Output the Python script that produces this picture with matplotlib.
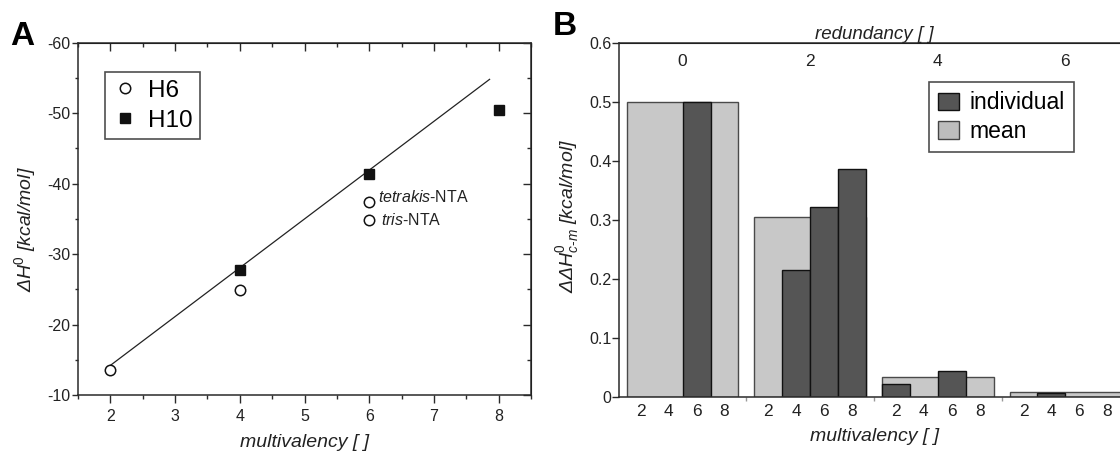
import numpy as np
import matplotlib
matplotlib.use('Agg')
import matplotlib.pyplot as plt
from matplotlib.patches import Patch
from matplotlib.ticker import MultipleLocator, NullFormatter

plt.rcParams['font.family'] = ['Liberation Sans', 'DejaVu Sans']
plt.rcParams['mathtext.fontset'] = 'custom'
plt.rcParams['mathtext.rm'] = 'Liberation Sans'
plt.rcParams['mathtext.it'] = 'Liberation Sans:italic'
plt.rcParams['mathtext.bf'] = 'Liberation Sans:bold'
plt.rcParams['axes.unicode_minus'] = False

# ---------------- Panel A data ----------------
h6_x = [2, 4, 6, 6]
h6_y = [-13.5, -24.9, -37.4, -34.8]
h10_x = [4, 6, 8]
h10_y = [-27.8, -41.4, -50.5]
fit_x = [2.0, 7.86]
fit_y = [-14.2, -54.8]
a_xticks = [2, 3, 4, 5, 6, 7, 8]
a_yticks = [-60, -50, -40, -30, -20, -10]
a_ylabels = ['-60', '-50', '-40', '-30', '-20', '-10']

# ---------------- Panel B data ----------------
redundancy = ['0', '2', '4', '6']
multivalency = ['2', '4', '6', '8']
mean_vals = [0.500, 0.305, 0.033, 0.008]
individual_vals = [
    [np.nan, np.nan, 0.500, np.nan],
    [np.nan, 0.215, 0.321, 0.386],
    [0.021, np.nan, 0.043, np.nan],
    [np.nan, 0.006, np.nan, np.nan],
]
b_yticks = [0, 0.1, 0.2, 0.3, 0.4, 0.5, 0.6]
b_ylabels = ['0', '0.1', '0.2', '0.3', '0.4', '0.5', '0.6']

W, H = 1120, 451
fig = plt.figure(figsize=(W / 100, H / 100), dpi=100)
spine_c = '#2a2a2a'
txt_c = '#222222'

# ================= Panel A =================
axA = fig.add_axes([78 / W, 1 - 395 / H, 453 / W, 352.3 / H])
axA.plot(fit_x, fit_y, color='#222222', lw=0.9, zorder=2)
axA.plot(h6_x, h6_y, 'o', mfc='white', mec='#111111', ms=7.5, mew=1.1,
         label='H6', zorder=3)
axA.plot(h10_x, h10_y, 's', color='#111111', ms=7.5, label='H10', zorder=3)
axA.set_xlim(1.5, 8.5)
axA.set_ylim(-10, -60)
axA.set_xticks(a_xticks)
axA.set_yticks(a_yticks)
axA.set_yticklabels(a_ylabels)
axA.xaxis.set_minor_locator(MultipleLocator(0.5))
axA.yaxis.set_minor_locator(MultipleLocator(5))
axA.tick_params(axis='x', which='major', direction='out', length=6, width=1,
                labelsize=11.5, pad=4, color=spine_c, labelcolor=txt_c)
axA.tick_params(axis='x', which='minor', direction='out', length=3, width=1,
                color=spine_c)
axA.tick_params(axis='y', which='major', direction='out', length=4.5, width=1,
                labelsize=11.5, pad=1, color=spine_c, labelcolor=txt_c)
axA.tick_params(axis='y', which='minor', direction='out', length=2.5, width=1,
                color=spine_c)
for s in axA.spines.values():
    s.set_color(spine_c)
    s.set_linewidth(1.1)

secx = axA.secondary_xaxis('top')
secx.set_xticks(a_xticks)
secx.xaxis.set_minor_locator(MultipleLocator(0.5))
secx.xaxis.set_major_formatter(NullFormatter())
secx.tick_params(which='major', direction='in', length=6, width=1, color=spine_c)
secx.tick_params(which='minor', direction='in', length=3, width=1, color=spine_c)
secy = axA.secondary_yaxis('right')
secy.set_yticks(a_yticks)
secy.yaxis.set_minor_locator(MultipleLocator(5))
secy.yaxis.set_major_formatter(NullFormatter())
secy.tick_params(which='major', direction='in', length=6, width=1, color=spine_c)
secy.tick_params(which='minor', direction='in', length=3, width=1, color=spine_c)

axA.set_xlabel('multivalency [ ]', fontsize=14, style='italic', labelpad=7,
               color=txt_c)
axA.set_ylabel('ΔH$^{0}$ [kcal/mol]', fontsize=14, style='italic',
               color=txt_c)
axA.yaxis.set_label_coords(-0.088, 0.47)

axA.annotate(r'$\mathit{tetrakis}$-NTA', xy=(6, h6_y[2]), xytext=(6.5, 0),
             textcoords='offset points', fontsize=11.5, va='baseline',
             ha='left', color=txt_c)
axA.annotate(r'$\mathit{tris}$-NTA', xy=(6, h6_y[3]), xytext=(8.2, -3.6),
             textcoords='offset points', fontsize=11.5, va='baseline',
             ha='left', color=txt_c)

legA = axA.legend(loc='upper left', bbox_to_anchor=(104.6 / W, 1 - 72 / H),
                  bbox_transform=fig.transFigure, fontsize=17.5, frameon=True,
                  fancybox=False, edgecolor='#222222', borderpad=0.32,
                  handlelength=1.0, handletextpad=0.45, labelspacing=0.32,
                  borderaxespad=0)
legA.get_frame().set_linewidth(1.2)

fig.text(10 / W, 1 - 45 / H, 'A', fontsize=24, weight='bold', va='baseline',
         ha='left')

# ================= Panel B =================
P = 4.57  # group period in bar slots
axB = fig.add_axes([619 / W, 1 - 396.7 / H, 510 / W, 354 / H])
for g, (m, inds) in enumerate(zip(mean_vals, individual_vals)):
    axB.bar(g * P, m, width=4, align='edge', color='#c8c8c8',
            edgecolor='#4a4a4a', lw=1, zorder=1)
    xs = [g * P + j for j, v in enumerate(inds) if not np.isnan(v)]
    vs = [v for v in inds if not np.isnan(v)]
    axB.bar(xs, vs, width=1, align='edge', color='#555555',
            edgecolor='#111111', lw=1, zorder=2)

axB.set_xlim(-0.28, 3 * P + 4 + 0.28)
axB.set_ylim(0, 0.6)
axB.set_yticks(b_yticks)
axB.set_yticklabels(b_ylabels)
axB.tick_params(axis='y', direction='out', length=5, width=1, labelsize=11.5,
                pad=0.5, color=spine_c, labelcolor=txt_c)
bounds = [g * P - (P - 4) / 2 for g in range(1, len(mean_vals))]
axB.set_xticks(bounds)
axB.set_xticklabels([])
axB.tick_params(axis='x', which='major', direction='out', length=3, width=1,
                color='#999999')
centers = [g * P + j + 0.5 for g in range(len(mean_vals)) for j in range(4)]
axB.set_xticks(centers, minor=True)
axB.set_xticklabels(multivalency * len(mean_vals), minor=True)
axB.tick_params(axis='x', which='minor', length=0, labelsize=12.5, pad=5.5,
                labelcolor=txt_c)
for s in axB.spines.values():
    s.set_color(spine_c)
    s.set_linewidth(1.1)

secB = axB.secondary_xaxis('top')
secB.set_xticks([g * P + 2 for g in range(len(redundancy))])
secB.set_xticklabels(redundancy)
secB.tick_params(length=0, pad=-19, labelsize=12.5, labelcolor=txt_c)
secB.set_xlabel('redundancy [ ]', style='italic', fontsize=13.5, labelpad=3,
                color=txt_c)

axB.set_xlabel('multivalency [ ]', fontsize=14, style='italic', labelpad=6,
               color=txt_c)
axB.set_ylabel(r'ΔΔH$^{0}_{\mathit{c}\text{-}\mathit{m}}$ [kcal/mol]',
               fontsize=14, style='italic', color=txt_c)
axB.yaxis.set_label_coords(-0.074, 0.51)

handles = [Patch(facecolor='#555555', edgecolor='#111111', lw=1),
           Patch(facecolor='#bdbdbd', edgecolor='#444444', lw=1)]
legB = axB.legend(handles, ['individual', 'mean'], loc='upper left',
                  bbox_to_anchor=(928.6 / W, 1 - 82.3 / H),
                  bbox_transform=fig.transFigure, fontsize=16.5, frameon=True,
                  fancybox=False, edgecolor='#222222', borderpad=0.4,
                  handlelength=0.93, handleheight=0.82, handletextpad=0.45,
                  labelspacing=0.25, borderaxespad=0)
legB.get_frame().set_linewidth(1.2)

fig.text(553 / W, 1 - 35 / H, 'B', fontsize=24, weight='bold', va='baseline',
         ha='left')

fig.savefig('out.png', dpi=100, facecolor='white')
